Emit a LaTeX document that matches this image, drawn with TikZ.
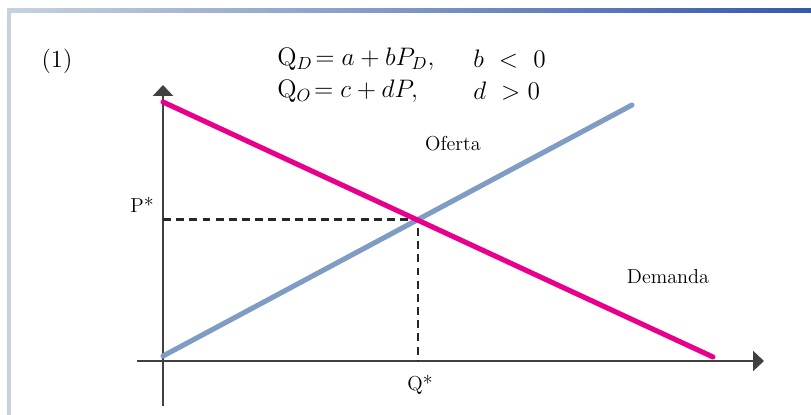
\documentclass[tikz,border=0pt]{standalone}
\usepackage{xcolor}
\usepackage{tikz}
\usetikzlibrary{arrows.meta, positioning, calc}
\definecolor{ejegris}{RGB}{64, 64, 64}
\definecolor{demandarosa}{RGB}{232, 0, 140}
\definecolor{ofertaazul}{RGB}{127, 156, 196}
\definecolor{marcoclaro}{RGB}{200, 210, 222}
\definecolor{marcoazul}{RGB}{52, 88, 172}

\begin{document}
\begin{tikzpicture}[
    x=0.02cm, y=-0.02cm,
    eje/.style={ejegris, line width=1.4pt, -{Triangle[length=0.22cm, width=0.4cm]}},
    guia/.style={black!85, line width=1.4pt, dash pattern=on 4.5pt off 3pt},
    curva/.style={line width=2.9pt, line cap=round},
    rotulo/.style={font=\fontsize{11.5}{13}\selectfont, inner sep=0pt},
    formula/.style={font=\fontsize{14}{17}\selectfont, inner sep=0pt, anchor=west}
  ]
    \useasboundingbox (0,0) rectangle (811,415);
    % marco
    \shade[left color=marcoclaro, right color=marcoazul] (7,9) rectangle (811,13);
    \fill[marcoclaro] (7,9) rectangle (11,415);

    % ejes
    \coordinate (O) at (163,361);
    \coordinate (yb) at (163,406);
    \coordinate (yt) at (163,85);
    \coordinate (xl) at (137,361);
    \coordinate (xr) at (764,361);
    \draw[eje] (yb) -- (yt);
    \draw[eje] (xl) -- (xr);

    % curvas
    \coordinate (d1) at (163,102);
    \coordinate (d2) at (713,357);
    \coordinate (s1) at (163,356);
    \coordinate (s2) at (632,105);
    \coordinate (E) at (418,219.5);
    \coordinate (Px) at (163,219.5);
    \coordinate (Qx) at (418,361);
    \draw[guia] (Px) -- (E) -- (Qx);
    \draw[curva, ofertaazul] (s1) -- (s2);
    \draw[curva, demandarosa] (d1) -- (d2);

    % textos
    \node[rotulo, font=\fontsize{14}{17}\selectfont] (num) at (57,61) {(1)};
    \node[rotulo] (pstar) at (142,205) {P*};
    \node[rotulo] (qstar) at (420,385) {Q*};
    \node[rotulo] (ofe) at (453,144) {Oferta};
    \node[rotulo] (dem) at (668,277) {Demanda};
    \node[formula] (eqd) at (277,59) {$\mathrm{Q}_{D}\!= a + bP_{D},$};
    \node[formula] (eqo) at (277,91) {$\mathrm{Q}_{O}\!= c + dP,$};
    \node[formula] (cd) at (473,59) {$b\ <\ 0$};
    \node[formula] (co) at (473,91) {$d\ >0$};
  \end{tikzpicture}
\end{document}
